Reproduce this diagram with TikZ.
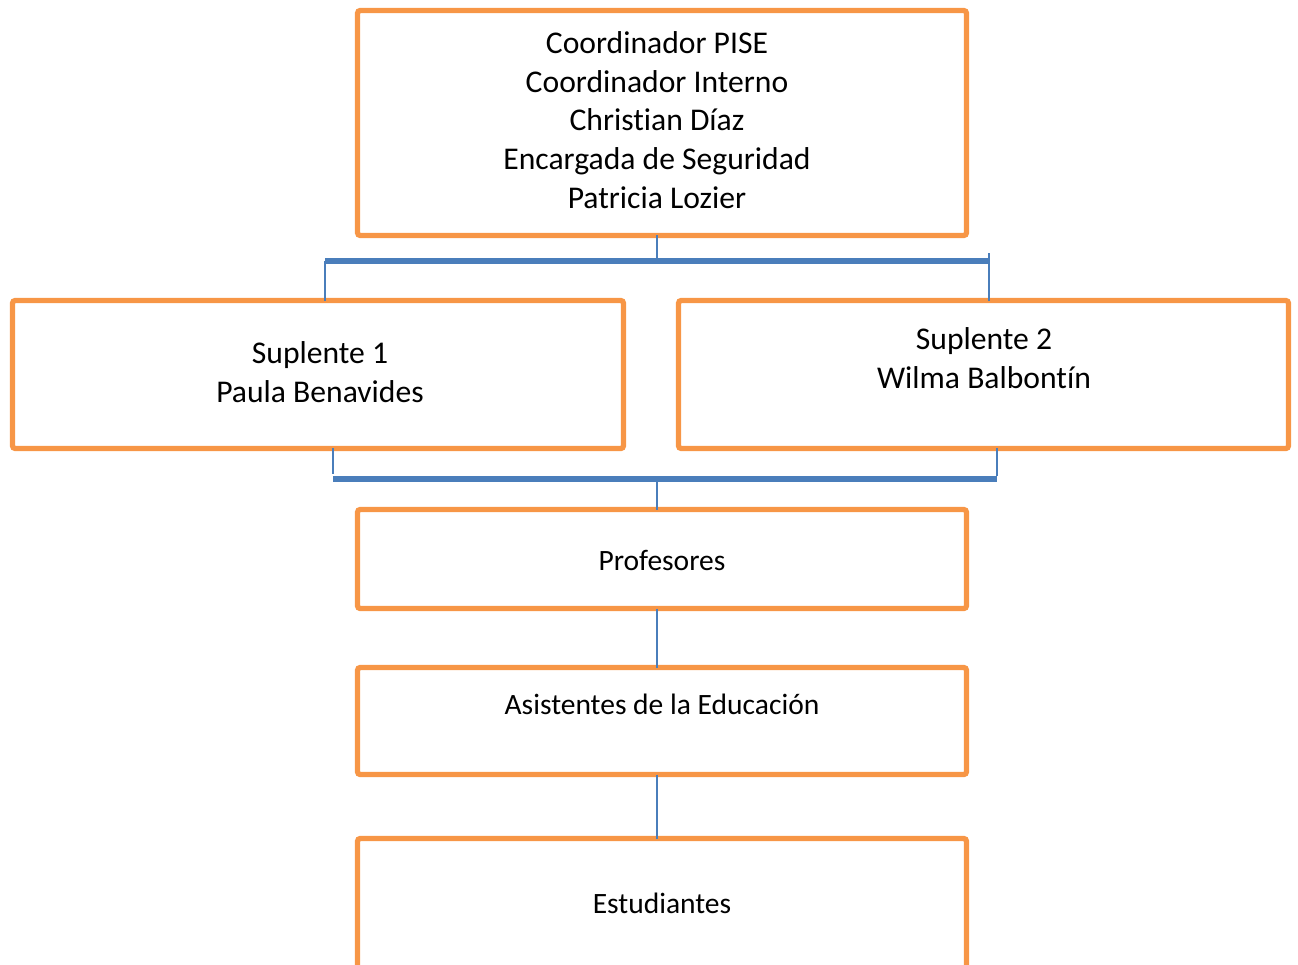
\documentclass[tikz,border=0pt]{standalone}
\usepackage{fontspec}
\setmainfont{Carlito}[Ligatures=NoCommon]
\definecolor{boxorange}{HTML}{F79646}
\definecolor{linkblue}{HTML}{4A7EBB}
\tikzset{
  cargo/.style={draw=boxorange, line width=3pt, rounded corners=1.5pt,
    inner sep=0pt, outer sep=0pt},
  rotulo/.style={align=center, font=\fontsize{18}{22}\selectfont},
  rotulochico/.style={align=center, font=\fontsize{16.8}{20}\selectfont},
  enlace/.style={draw=linkblue, line width=1.1pt},
  barra/.style={draw=linkblue, line width=3.4pt},
}
\begin{document}
\begin{tikzpicture}[x=0.02cm, y=-0.02cm]
  \clip (0,0) rectangle (1298,964);
  % cajas
  \node[cargo, minimum width=12.18cm, minimum height=4.5cm] (coord) at (662,123) {};
  \node[cargo, minimum width=12.22cm, minimum height=2.96cm] (sup1) at (318,374.5) {};
  \node[cargo, minimum width=12.2cm, minimum height=2.96cm] (sup2) at (983.5,374.5) {};
  \node[cargo, minimum width=12.18cm, minimum height=1.98cm] (prof) at (662,559) {};
  \node[cargo, minimum width=12.18cm, minimum height=2.14cm] (asis) at (662,721) {};
  \node[cargo, minimum width=12.18cm, minimum height=3.22cm] (estu) at (662,919) {};
  % textos
  \node[rotulo] (tcoord) at (657,120) {Coordinador PISE\\Coordinador Interno\\Christian Díaz\\Encargada de Seguridad\\Patricia Lozier};
  \node[rotulo] (tsup1) at (320,372) {Suplente 1\\Paula Benavides};
  \node[rotulo] (tsup2) at (984,358) {Suplente 2\\Wilma Balbontín};
  \node[rotulochico] (tprof) at (662,560) {Profesores};
  \node[rotulochico] (tasis) at (662,704) {Asistentes de la Educación};
  \node[rotulochico] (testu) at (662,903) {Estudiantes};
  % conectores
  \coordinate (b1l) at (325,261);
  \coordinate (b1r) at (989,261);
  \coordinate (b1t) at (989,253);
  \coordinate (b2l) at (333,479);
  \coordinate (b2r) at (997,479);
  \draw[enlace] (coord.south -| 657,0) -- (657,261);
  \draw[barra] (b1l) -- (b1r);
  \draw[enlace] (b1l) -- (b1l |- sup1.north);
  \draw[enlace] (b1t) -- (b1t |- sup2.north);
  \draw[enlace] (b2l |- sup1.south) -- (333,474);
  \draw[enlace] (b2r |- sup2.south) -- (997,476);
  \draw[barra] (b2l) -- (b2r);
  \draw[enlace] (657,479) -- (prof.north -| 657,0);
  \draw[enlace] (prof.south -| 657,0) -- (asis.north -| 657,0);
  \draw[enlace] (asis.south -| 657,0) -- (estu.north -| 657,0);
\end{tikzpicture}
\end{document}
